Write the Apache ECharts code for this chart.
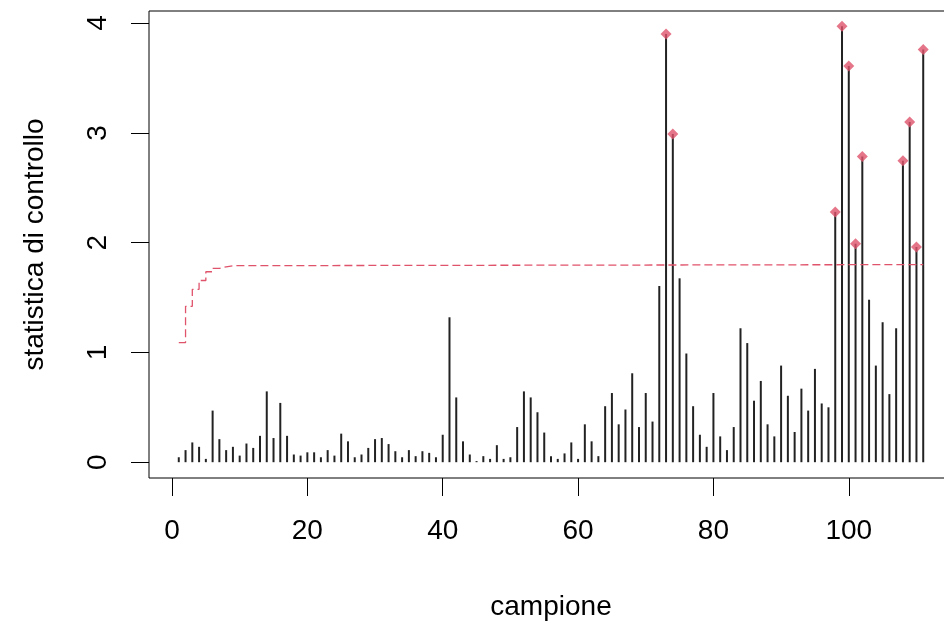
<!DOCTYPE html>
<html>
<head>
<meta charset="utf-8">
<script src="https://cdn.jsdelivr.net/npm/echarts@6/dist/echarts.min.js"></script>
<style>
  html, body { margin: 0; padding: 0; background: #fff; }
  #chart { width: 944px; height: 621px; }
</style>
</head>
<body>
<div id="chart"></div>
<script>
// statistica di controllo per campione 1..111
const statistica = [
  0.045, 0.11, 0.18, 0.14, 0.03, 0.47, 0.21, 0.11, 0.14, 0.06,
  0.17, 0.13, 0.24, 0.645, 0.22, 0.54, 0.24, 0.07, 0.06, 0.09,
  0.09, 0.045, 0.11, 0.06, 0.26, 0.19, 0.045, 0.07, 0.13, 0.21,
  0.22, 0.165, 0.10, 0.045, 0.11, 0.055, 0.10, 0.085, 0.045, 0.25,
  1.32, 0.59, 0.19, 0.07, 0.01, 0.055, 0.03, 0.155, 0.03, 0.045,
  0.32, 0.645, 0.59, 0.455, 0.27, 0.055, 0.03, 0.08, 0.18, 0.03,
  0.345, 0.19, 0.055, 0.51, 0.63, 0.345, 0.48, 0.81, 0.32, 0.63,
  0.37, 1.605, 3.90, 2.99, 1.675, 0.99, 0.51, 0.25, 0.14, 0.63,
  0.235, 0.11, 0.32, 1.22, 1.085, 0.56, 0.74, 0.345, 0.235, 0.88,
  0.605, 0.275, 0.67, 0.47, 0.85, 0.535, 0.50, 2.28, 3.97, 3.61,
  1.99, 2.785, 1.48, 0.88, 1.275, 0.62, 1.22, 2.745, 3.10, 1.96,
  3.76
];

// limite di controllo (a gradini): campione e valore
const limiteX = [1, 2, 3, 4, 5, 6, 7, 8, 9, 111];
const limiteY = [1.09, 1.42, 1.575, 1.655, 1.735, 1.765, 1.78, 1.79, 1.80, 1.80];

const xTicks = [0, 20, 40, 60, 80, 100];
const yTicks = [0, 1, 2, 3, 4];

const RED = '#DF536B';
const FONT = 'Liberation Sans, Arial, sans-serif';

function limiteAt(x) {
  let v = limiteY[0];
  for (let k = 0; k < limiteX.length; k++) if (limiteX[k] <= x) v = limiteY[k];
  return v;
}

const barre = statistica.map((v, i) => [i + 1, v]);
const fuori = barre.filter(d => d[1] > limiteAt(d[0]));
const limite = limiteX.map((x, k) => [x, limiteY[k]]);

const chart = echarts.init(document.getElementById('chart'), null, { renderer: 'canvas' });
chart.setOption({
  animation: false,
  grid: {
    show: true, left: 149, top: 11, width: 804, height: 467,
    outerBoundsMode: 'none', containLabel: false,
    borderColor: '#000', borderWidth: 1, backgroundColor: 'transparent'
  },
  xAxis: {
    type: 'value', min: -3.4, max: 115.4,
    axisLine: { show: false, onZero: false },
    splitLine: { show: false },
    axisTick: { show: true, inside: false, customValues: xTicks, length: 18, lineStyle: { color: '#000', width: 1 } },
    axisLabel: { customValues: xTicks, fontSize: 28, fontFamily: FONT, color: '#000', margin: 39 },
    name: 'campione', nameLocation: 'middle', nameGap: 115,
    nameTextStyle: { fontSize: 28, fontFamily: FONT, color: '#000' }
  },
  yAxis: {
    type: 'value', min: -0.144, max: 4.11,
    axisLine: { show: false, onZero: false },
    splitLine: { show: false },
    axisTick: { show: true, inside: false, customValues: yTicks, length: 18, lineStyle: { color: '#000', width: 1 } },
    axisLabel: { customValues: yTicks, rotate: 90, fontSize: 28, fontFamily: FONT, color: '#000', margin: 37 },
    name: 'statistica di controllo', nameLocation: 'middle', nameGap: 100,
    nameTextStyle: { fontSize: 28, fontFamily: FONT, color: '#000' }
  },
  series: [
    {
      type: 'bar', data: barre, barWidth: 2,
      itemStyle: { color: '#222' }, silent: true
    },
    {
      type: 'line', data: limite, step: 'end', showSymbol: false,
      lineStyle: { color: RED, width: 1.3, type: [8, 4] }, silent: true, z: 3
    },
    {
      type: 'scatter', data: fuori, symbol: 'diamond', symbolSize: 11,
      itemStyle: { color: RED }, silent: true, z: 4
    }
  ]
});
</script>
</body>
</html>
